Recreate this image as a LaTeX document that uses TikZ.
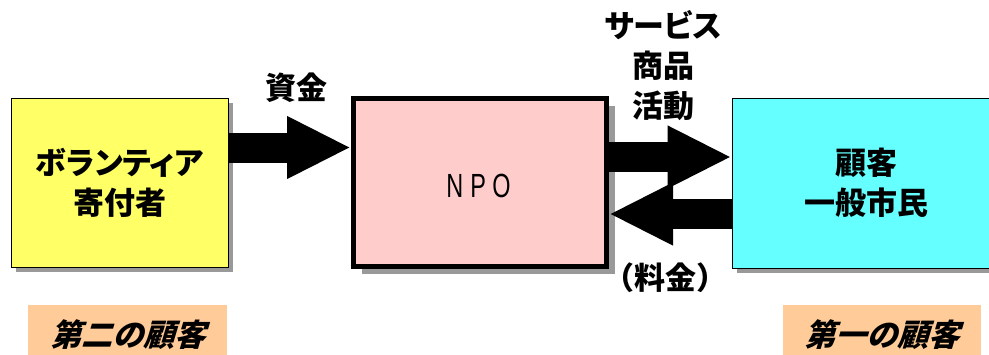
\documentclass[tikz,border=0pt]{standalone}
\usepackage{fontspec}
\usepackage{graphicx}
\usetikzlibrary{arrows.meta,shadows}
\newfontfamily\jp{Noto Sans CJK JP}
\newfontfamily\jpp{Noto Sans CJK JP}[RawFeature=+palt]
\newfontfamily\jpsl{Noto Sans CJK JP}[FakeSlant=0.3]
\newfontfamily\latn{Liberation Sans}
\definecolor{boxyellow}{HTML}{FFFF66}
\definecolor{boxpink}{HTML}{FFCCCC}
\definecolor{boxcyan}{HTML}{66FFFF}
\definecolor{boxorange}{HTML}{FFCC99}
\definecolor{shadowgray}{HTML}{999999}
\tikzset{
  jtext/.style={font=\jp\bfseries\fontsize{31}{40}\selectfont, align=center, inner sep=0pt},
  ktext/.style={font=\jpp\bfseries\fontsize{31}{40}\selectfont, align=center, inner sep=0pt},
  actor/.style={draw=black, line width=0.8pt, inner sep=0pt,
    general shadow={fill=shadowgray, shadow xshift=5pt, shadow yshift=-5pt}},
  orgbox/.style={draw=black, line width=5pt, fill=boxpink, inner sep=0pt,
    general shadow={fill=shadowgray, shadow xshift=8pt, shadow yshift=-7pt}},
  tagbox/.style={fill=boxorange, inner sep=0pt, font=\jpsl\bfseries\fontsize{31}{31}\selectfont},
  bigarrow/.style={line width=30pt, -{Triangle[length=64pt,width=58pt]}}
}
\begin{document}
\begin{tikzpicture}[x=1pt,y=-1pt]
\useasboundingbox (0,0) rectangle (989,354);
% boxes
\node[actor, ktext, fill=boxyellow, minimum width=217pt, minimum height=169pt] (vol) at (119.5,182.5) {ボランティア\\寄付者};
\node[orgbox, minimum width=253pt, minimum height=168pt] (npo) at (480,182.5) {};
\node[inner sep=0pt] (npotext) at (478.5,185.5) {\fontsize{33.5}{33.5}\selectfont\latn\scalebox{0.7}[1]{N\hspace{10pt}P\hspace{9pt}O}};
\node[actor, jtext, fill=boxcyan, minimum width=268pt, minimum height=170pt] (cust) at (866,183) {顧客\\一般市民};
% arrows
\draw[bigarrow] (vol.east |- 0,147.5) -- (npo.west |- 0,147.5);
\draw[bigarrow] (npo.east |- 0,157) -- (cust.west |- 0,157);
\draw[bigarrow] (cust.west |- 0,214) -- (npo.east |- 0,214);
% labels
\node[jtext] (fund) at (296,88) {資金};
\node[ktext] (serv) at (663,65.5) {サービス\\商品\\活動};
\node[jtext] (fee) at (665,278) {（料金）};
% tags
\node[tagbox, minimum width=199pt, minimum height=60pt] (tag2) at (127.5,335) {第二の顧客};
\node[tagbox, minimum width=198pt, minimum height=60pt] (tag1) at (882,335) {第一の顧客};
\end{tikzpicture}
\end{document}
